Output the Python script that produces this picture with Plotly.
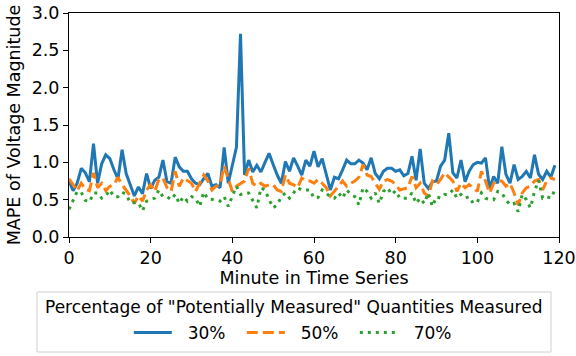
import plotly.graph_objects as go

# Minute index of the time series
minutes = list(range(120))

# MAPE of voltage magnitude for each share of measured quantities
mape_30 = [
    0.75, 0.62, 0.72, 0.92, 0.86, 0.74, 1.25, 0.72, 0.98, 1.10,
    1.05, 0.90, 0.78, 1.17, 0.85, 0.70, 0.55, 0.67, 0.58, 0.85,
    0.65, 0.76, 0.80, 1.03, 0.74, 0.72, 1.07, 0.94, 0.88, 0.88,
    0.78, 0.72, 0.70, 0.78, 0.85, 0.68, 0.70, 0.66, 1.20, 0.72,
    0.95, 1.20, 2.72, 0.83, 1.03, 0.87, 0.96, 0.87, 1.00, 1.12,
    0.97, 0.83, 0.72, 1.01, 0.88, 1.06, 0.95, 0.83, 1.03, 0.95,
    1.15, 0.94, 1.05, 0.85, 0.63, 0.80, 0.78, 0.90, 1.03, 0.98,
    0.98, 1.03, 0.99, 0.90, 1.06, 0.85, 0.78, 0.88, 0.92, 0.92,
    0.88, 0.90, 0.82, 0.85, 1.08, 0.76, 1.18, 0.72, 0.65, 0.74,
    0.75, 0.95, 1.03, 1.39, 0.86, 0.79, 1.03, 0.74, 0.88, 0.97,
    1.00, 0.99, 1.06, 0.65, 0.81, 0.72, 1.21, 0.84, 0.72, 0.97,
    0.77, 0.81, 0.88, 0.79, 1.10, 0.84, 0.77, 0.88, 0.80, 0.96,
]
mape_50 = [
    0.78, 0.70, 0.62, 0.72, 0.64, 0.62, 0.86, 0.66, 0.72, 0.62,
    0.68, 0.70, 0.80, 0.70, 0.62, 0.55, 0.45, 0.55, 0.48, 0.63,
    0.70, 0.61, 0.77, 0.79, 0.66, 0.61, 0.88, 0.68, 0.79, 0.75,
    0.72, 0.61, 0.72, 0.83, 0.75, 0.63, 0.68, 0.70, 0.95, 0.79,
    0.61, 0.68, 0.72, 0.75, 0.92, 0.72, 0.68, 0.72, 0.68, 0.70,
    0.70, 0.63, 0.61, 0.83, 0.72, 0.70, 0.66, 0.79, 0.75, 0.75,
    0.72, 0.77, 0.72, 0.66, 0.55, 0.61, 0.68, 0.75, 0.68, 0.72,
    0.75, 0.80, 0.97, 0.83, 0.81, 0.72, 0.64, 0.75, 0.77, 0.75,
    0.70, 0.63, 0.64, 0.66, 0.81, 0.66, 0.72, 0.59, 0.55, 0.75,
    0.70, 0.77, 0.86, 0.81, 0.75, 0.61, 0.72, 0.66, 0.70, 0.66,
    0.61, 0.88, 0.75, 0.59, 0.72, 0.75, 0.75, 0.68, 0.72, 0.59,
    0.43, 0.59, 0.66, 0.68, 0.75, 0.77, 0.63, 0.75, 0.79, 0.77,
]
mape_70 = [
    0.37, 0.49, 0.61, 0.60, 0.49, 0.47, 0.59, 0.59, 0.52, 0.55,
    0.63, 0.54, 0.54, 0.60, 0.57, 0.46, 0.46, 0.46, 0.35, 0.48,
    0.50, 0.52, 0.63, 0.54, 0.54, 0.50, 0.57, 0.45, 0.54, 0.48,
    0.54, 0.52, 0.41, 0.60, 0.51, 0.51, 0.50, 0.48, 0.54, 0.41,
    0.54, 0.68, 0.57, 0.59, 0.59, 0.48, 0.39, 0.66, 0.63, 0.50,
    0.39, 0.43, 0.54, 0.59, 0.52, 0.59, 0.66, 0.63, 0.63, 0.63,
    0.52, 0.53, 0.63, 0.59, 0.54, 0.52, 0.59, 0.52, 0.63, 0.57,
    0.54, 0.43, 0.66, 0.61, 0.52, 0.59, 0.45, 0.61, 0.66, 0.57,
    0.62, 0.52, 0.52, 0.52, 0.59, 0.45, 0.52, 0.45, 0.59, 0.41,
    0.54, 0.52, 0.57, 0.57, 0.63, 0.52, 0.57, 0.52, 0.54, 0.45,
    0.47, 0.59, 0.52, 0.50, 0.50, 0.61, 0.59, 0.50, 0.43, 0.45,
    0.34, 0.57, 0.50, 0.39, 0.61, 0.76, 0.52, 0.54, 0.52, 0.63,
]

series_names = ["30%", "50%", "70%"]
series_values = [mape_30, mape_50, mape_70]
series_colors = ["#1f77b4", "#ff7f0e", "#2ca02c"]
series_dash = ["solid", "11px,5px", "3px,5px"]

x_ticks = [0, 20, 40, 60, 80, 100, 120]
y_ticks = [0.0, 0.5, 1.0, 1.5, 2.0, 2.5, 3.0]

FONT = "DejaVu Sans"
FS = 17.5
NBSP = "\u00a0"

fig = go.Figure()
for name, vals, col, dash in zip(series_names, series_values, series_colors, series_dash):
    fig.add_trace(go.Scatter(
        x=minutes, y=vals, mode="lines", name=NBSP * 2 + name,
        line=dict(color=col, width=3, dash=dash),
    ))

axis_common = dict(
    showgrid=False, zeroline=False, showline=True, linecolor="black",
    linewidth=1, mirror=True, ticks="outside", ticklen=5, tickwidth=1,
    tickcolor="black", automargin=False,
    tickfont=dict(family=FONT, size=FS, color="black"),
)
fig.update_xaxes(
    range=[0, 120], tickvals=x_ticks,
    title=dict(text="Minute in Time Series", font=dict(family=FONT, size=FS, color="black"), standoff=2),
    **axis_common,
)
fig.update_yaxes(
    range=[0, 3.0], tickvals=y_ticks, tickformat=".1f",
    title=dict(text="MAPE of Voltage Magnitude", font=dict(family=FONT, size=FS, color="black"), standoff=6),
    **axis_common,
)

# Legend box with a centred title above the entries
fig.add_shape(
    type="rect", xref="paper", yref="paper",
    x0=-0.0653, x1=0.9837, y0=-0.5134, y1=-0.2455,
    line=dict(color="#d0d0d0", width=1), fillcolor="rgba(0,0,0,0)",
)
fig.add_annotation(
    text='Percentage of "Potentially Measured" Quantities Measured',
    xref="paper", yref="paper", x=0.459, y=-0.312,
    xanchor="center", yanchor="middle", showarrow=False,
    font=dict(family=FONT, size=17, color="black"),
)

fig.update_layout(
    width=576, height=356,
    margin=dict(l=69, r=17, t=13, b=119, autoexpand=False),
    paper_bgcolor="white", plot_bgcolor="white",
    font=dict(family=FONT, size=FS, color="black"),
    showlegend=True,
    legend=dict(
        orientation="h", x=0.468, xanchor="center", y=-0.428, yanchor="middle",
        font=dict(family=FONT, size=17, color="black"),
        bgcolor="rgba(0,0,0,0)", borderwidth=0, itemwidth=38,
        entrywidth=60,
    ),
)

fig.write_html("out.html")
